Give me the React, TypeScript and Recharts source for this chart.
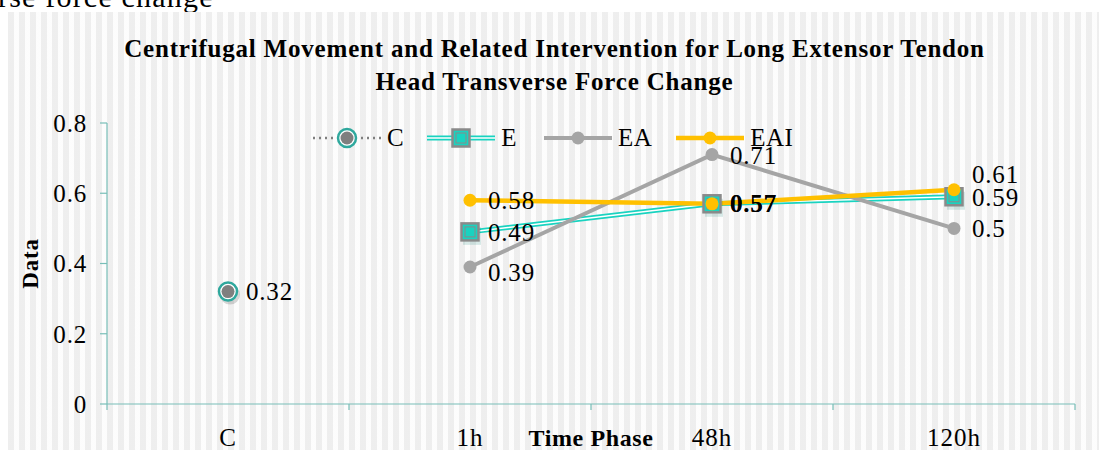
import {
  ComposedChart,
  Line,
  XAxis,
  YAxis,
  Legend,
  LabelList,
} from "recharts";

const categories = ["C", "1h", "48h", "120h"];
const positions = [0.5, 1.5, 2.5, 3.5];
const cValues = [0.32, null, null, null];
const eValues = [null, 0.49, 0.57, 0.59];
const eaValues = [null, 0.39, 0.71, 0.5];
const eaiValues = [null, 0.58, 0.57, 0.61];
const yTicks = [0, 0.2, 0.4, 0.6, 0.8];
const xTicks = [0, 0.5, 1, 1.5, 2, 2.5, 3, 3.5, 4];

const data = positions.map((x, i) => ({
  x,
  name: categories[i],
  C: cValues[i],
  E: eValues[i],
  EA: eaValues[i],
  EAI: eaiValues[i],
}));

const FONT = "'Liberation Serif', 'Times New Roman', serif";
const TEAL = "#19D3C0";
const AXIS = "#78BEB8";
const GRAY = "#A5A5A5";
const YELLOW = "#FFC000";

function XTick(props: any) {
  const { x, y, payload } = props;
  const v = payload.value;
  if (Number.isInteger(v)) {
    return <line x1={x} x2={x} y1={y - 8} y2={y - 2} stroke={AXIS} strokeWidth={1.2} />;
  }
  const idx = Math.floor(v);
  return (
    <text x={x} y={y + 34} textAnchor="middle" fontFamily={FONT} fontSize={25} letterSpacing={1} fill="#000">
      {categories[idx]}
    </text>
  );
}

function CDot(props: any) {
  const { cx, cy } = props;
  if (cy == null) return null;
  return (
    <g>
      <circle cx={cx + 2} cy={cy + 3} r={10} fill="rgba(0,0,0,0.15)" />
      <circle cx={cx} cy={cy} r={9} fill="#fff" stroke="#2FA89D" strokeWidth={2.5} />
      <circle cx={cx} cy={cy} r={6.5} fill="#7F7F7F" />
    </g>
  );
}

function EDot(props: any) {
  const { cx, cy } = props;
  if (cy == null) return null;
  return (
    <g>
      <rect x={cx - 7} y={cy - 5} width={18} height={18} fill="rgba(0,120,110,0.15)" />
      <rect x={cx - 8.5} y={cy - 8.5} width={17} height={17} fill={TEAL} stroke="#8A8A8A" strokeWidth={2.5} />
      <rect x={cx - 5} y={cy - 5} width={10} height={10} fill={TEAL} stroke="#8A8A8A" strokeWidth={1} />
    </g>
  );
}

function labelRenderer(dys: number[], bold: boolean[] = []) {
  return (p: any) => {
    if (p.value == null) return null;
    return (
      <text
        x={p.x + 18}
        y={p.y + (dys[p.index] || 0)}
        dominantBaseline="central"
        fontFamily={FONT}
        fontSize={25}
        letterSpacing={0.8}
        fontWeight={bold[p.index] ? "bold" : "normal"}
        fill="#000"
      >
        {p.value}
      </text>
    );
  };
}

function LegendContent() {
  const item = (icon: any, label: string, gap: number) => (
    <div style={{ display: "flex", alignItems: "center", marginRight: gap }}>
      <svg width={72} height={24}>{icon}</svg>
      <span style={{ fontFamily: FONT, fontSize: 25, marginLeft: 4, letterSpacing: 0.5 }}>{label}</span>
    </div>
  );
  return (
    <div style={{ display: "flex", justifyContent: "flex-start", paddingLeft: 311 }}>
      {item(
        <g>
          <line x1={2} x2={70} y1={12} y2={12} stroke="#7F7F7F" strokeWidth={2.5} strokeDasharray="2 4" />
          <circle cx={36} cy={12} r={9} fill="#fff" stroke="#2FA89D" strokeWidth={2.5} />
          <circle cx={36} cy={12} r={6.5} fill="#7F7F7F" />
        </g>,
        "C",
        21
      )}
      {item(
        <g>
          <line x1={2} x2={70} y1={12} y2={12} stroke={TEAL} strokeWidth={5} />
          <line x1={2} x2={70} y1={12} y2={12} stroke="#fff" strokeWidth={1.5} />
          <rect x={27.5} y={3.5} width={17} height={17} fill={TEAL} stroke="#8A8A8A" strokeWidth={2.5} />
          <rect x={31} y={7} width={10} height={10} fill={TEAL} stroke="#8A8A8A" strokeWidth={1} />
        </g>,
        "E",
        25
      )}
      {item(
        <g>
          <line x1={2} x2={70} y1={12} y2={12} stroke={GRAY} strokeWidth={4} />
          <circle cx={36} cy={12} r={6.5} fill={GRAY} />
        </g>,
        "EA",
        22
      )}
      {item(
        <g>
          <line x1={2} x2={70} y1={12} y2={12} stroke={YELLOW} strokeWidth={4.5} />
          <circle cx={36} cy={12} r={6.5} fill={YELLOW} />
        </g>,
        "EAI",
        0
      )}
    </div>
  );
}

export default function App() {
  return (
    <div style={{ position: "absolute", left: 0, top: 0, width: 1099, height: 450, background: "#fff", overflow: "hidden" }}>
      <svg width={1099} height={14} style={{ position: "absolute", left: 0, top: 0 }}>
        <text x={-2} y={7} fontFamily={FONT} fontSize={30} letterSpacing={1.2} fill="#000">rse force change</text>
      </svg>
      <div
        style={{
          position: "absolute",
          left: 8,
          top: 12,
          width: 1091,
          height: 438,
          backgroundColor: "#f7f7f7",
          backgroundImage:
            "repeating-linear-gradient(90deg, rgba(0,0,0,0.035) 0 6px, rgba(255,255,255,0.7) 6px 11px)",
        }}
      />
      <div
        style={{
          position: "absolute",
          left: 0,
          top: 32,
          width: 1099,
          textAlign: "center",
          fontFamily: FONT,
          fontWeight: "bold",
          fontSize: 25,
          letterSpacing: 0.8,
          lineHeight: "33px",
          paddingLeft: 10,
          boxSizing: "border-box",
        }}
      >
        Centrifugal Movement and Related Intervention for Long Extensor Tendon
        <br />
        Head Transverse Force Change
      </div>
      <div style={{ position: "absolute", left: 0, top: 0 }}>
        <ComposedChart
          width={1099}
          height={450}
          data={data}
          margin={{ top: 123, right: 24, bottom: 0, left: 0 }}
        >
          <XAxis
            dataKey="x"
            type="number"
            domain={[0, 4]}
            ticks={xTicks}
            interval={0}
            height={46}
            axisLine={{ stroke: AXIS, strokeWidth: 1.2 }}
            tickLine={false}
            tick={<XTick />}
            label={(p: any) => {
              const vb = p.viewBox;
              return (
                <text
                  x={vb.x + vb.width / 2}
                  y={446}
                  textAnchor="middle"
                  fontFamily={FONT}
                  fontWeight="bold"
                  fontSize={24}
                  letterSpacing={0.6}
                  fill="#000"
                >
                  Time Phase
                </text>
              );
            }}
          />
          <YAxis
            domain={[0, 0.8]}
            ticks={yTicks}
            width={107}
            axisLine={{ stroke: AXIS, strokeWidth: 1.2 }}
            tickLine={{ stroke: AXIS, strokeWidth: 1.2 }}
            tickSize={7}
            tickMargin={13}
            tick={{ fontFamily: FONT, fontSize: 25, fill: "#000", letterSpacing: 0.8 }}
            label={(p: any) => {
              const vb = p.viewBox;
              const cy = vb.y + vb.height / 2;
              return (
                <text
                  x={30}
                  y={cy}
                  transform={`rotate(-90 30 ${cy})`}
                  textAnchor="middle"
                  dominantBaseline="central"
                  fontFamily={FONT}
                  fontWeight="bold"
                  fontSize={23}
                  letterSpacing={0.8}
                  fill="#000"
                >
                  Data
                </text>
              );
            }}
          />
          <Legend
            verticalAlign="middle"
            layout="horizontal"
            content={<LegendContent />}
            wrapperStyle={{ top: 124, left: 0, width: 1099 }}
          />
          <Line
            dataKey="C"
            stroke="#7F7F7F"
            strokeDasharray="2 4"
            strokeWidth={2.5}
            dot={<CDot />}
            isAnimationActive={false}
            connectNulls
          >
            <LabelList dataKey="C" content={labelRenderer([0])} />
          </Line>
          <Line
            dataKey="E"
            stroke={TEAL}
            strokeWidth={5}
            dot={false}
            legendType="none"
            isAnimationActive={false}
          />
          <Line
            dataKey="E"
            stroke="#fff"
            strokeWidth={1.5}
            dot={<EDot />}
            legendType="none"
            isAnimationActive={false}
          >
            <LabelList dataKey="E" content={labelRenderer([0, 1, 0, 1])} />
          </Line>
          <Line
            dataKey="EA"
            stroke={GRAY}
            strokeWidth={4}
            dot={{ r: 6.5, fill: GRAY, stroke: GRAY, strokeWidth: 0 }}
            isAnimationActive={false}
          >
            <LabelList dataKey="EA" content={labelRenderer([0, 5, 1, 0])} />
          </Line>
          <Line
            dataKey="EAI"
            stroke={YELLOW}
            strokeWidth={4.5}
            dot={{ r: 6.5, fill: YELLOW, stroke: YELLOW, strokeWidth: 0 }}
            isAnimationActive={false}
          >
            <LabelList dataKey="EAI" content={labelRenderer([0, 0, 0, -15], [false, false, true, false])} />
          </Line>
        </ComposedChart>
      </div>
    </div>
  );
}
